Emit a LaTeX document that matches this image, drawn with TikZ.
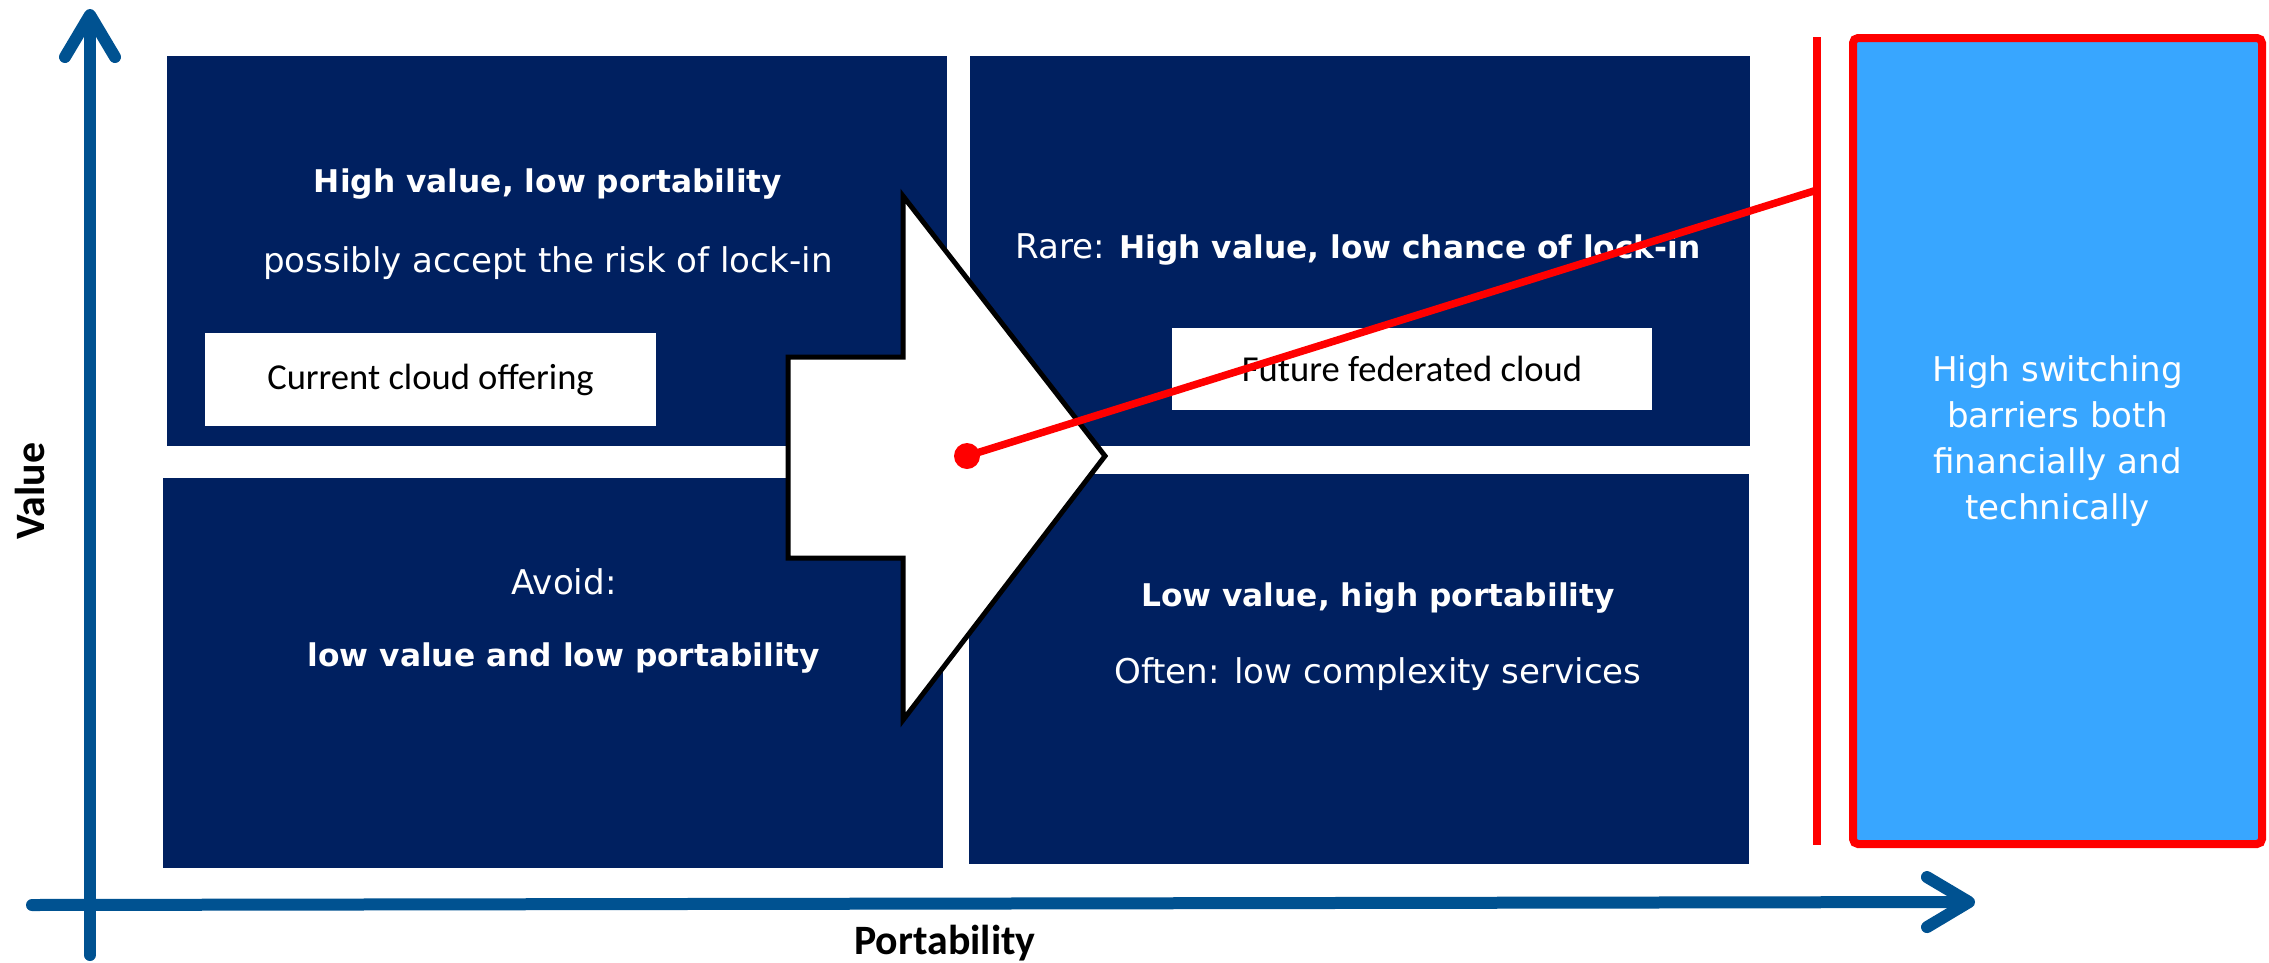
\documentclass[tikz,border=0pt]{standalone}
\usepackage{fontspec}
\setmainfont{DejaVu Sans}
\newfontfamily\calibri{Carlito}
\usetikzlibrary{arrows.meta}
\definecolor{navy}{RGB}{0,32,96}
\definecolor{sky}{RGB}{56,166,255}
\definecolor{axisblue}{RGB}{0,82,145}
\tikzset{>={Straight Barb[length=4.2mm, width=5mm, round]}}
\newcommand{\hi}[1]{{\fontsize{8.9}{12}\selectfont\bfseries #1}}

\begin{document}
\begin{tikzpicture}[x=0.1mm, y=-0.1mm,
    quad/.style={fill=navy, anchor=north west, inner sep=0pt, minimum width=78mm, minimum height=39mm},
    txt/.style={text=white, inner sep=0pt, font=\fontsize{9.7}{12}\selectfont},
    tag/.style={fill=white, inner sep=0pt, font=\calibri\fontsize{10.4}{12}\selectfont},
    axis/.style={line width=1.2mm, axisblue, line cap=round, ->},
    axislabel/.style={inner sep=0pt, font=\calibri\bfseries\fontsize{11.9}{14}\selectfont},
    dot/.style={circle, fill=red, inner sep=0pt, minimum size=2.6mm}]
    \useasboundingbox (0, 0) rectangle (2269, 963);
    \foreach \quad/\x/\y in {tl/166/55, bl/162/477, tr/969/55, br/968/473} {
        \node [quad] (\quad) at (\x, \y) {};
    }
    \node [tag, minimum width=45.1mm, minimum height=9.3mm] (current) at (430.5, 379.5) {Current cloud offering};
    \node [tag, minimum width=48mm, minimum height=8.2mm] (future) at (1412, 369) {Future federated cloud};
    \node [txt] (tl 1) at (548, 184) {\hi{High value, low portability}};
    \node [txt] (tl 2) at (548, 263) {possibly accept the risk of lock-in};
    \node [txt] (bl 1) at (564, 582) {Avoid:};
    \node [txt] (bl 2) at (564, 658) {\hi{low value and low portability}};
    \node [txt] (tr 1) at (1358, 249) {Rare: \hi{High value, low chance of lock-in}};
    \node [txt] (br 1) at (1378, 598) {\hi{Low value, high portability}};
    \node [txt] (br 2) at (1378, 674) {Often: low complexity services};
    \draw[line width=0.5mm, fill=white] (788, 357) -- (903, 357) -- (903, 196) -- (1105, 456)
        -- (903, 720) -- (903, 558) -- (788, 558) -- cycle;
    \node [fill=sky, draw=red, line width=0.8mm, rounded corners=0.5mm, minimum width=40.9mm,
        minimum height=80.6mm, text=white, align=center, font=\fontsize{9.7}{13.1}\selectfont]
        (barrier) at (2057.5, 441) {High switching\\barriers both\\financially and\\technically};
    \draw[red, line width=0.8mm] (1817, 37) -- (1817, 845);
    \coordinate (hit) at (1817, 190);
    \node [dot] (pin) at (967, 456) {};
    \draw[red, line width=0.75mm] (pin.center) -- (hit);
    \draw[axis] (90, 955) -- (90, 9);
    \draw[axis] (32, 905) -- (1975, 902);
    \node [axislabel, rotate=90] (value) at (30, 491) {Value};
    \node [axislabel] (portability) at (945, 943) {Portability};
\end{tikzpicture}
\end{document}
